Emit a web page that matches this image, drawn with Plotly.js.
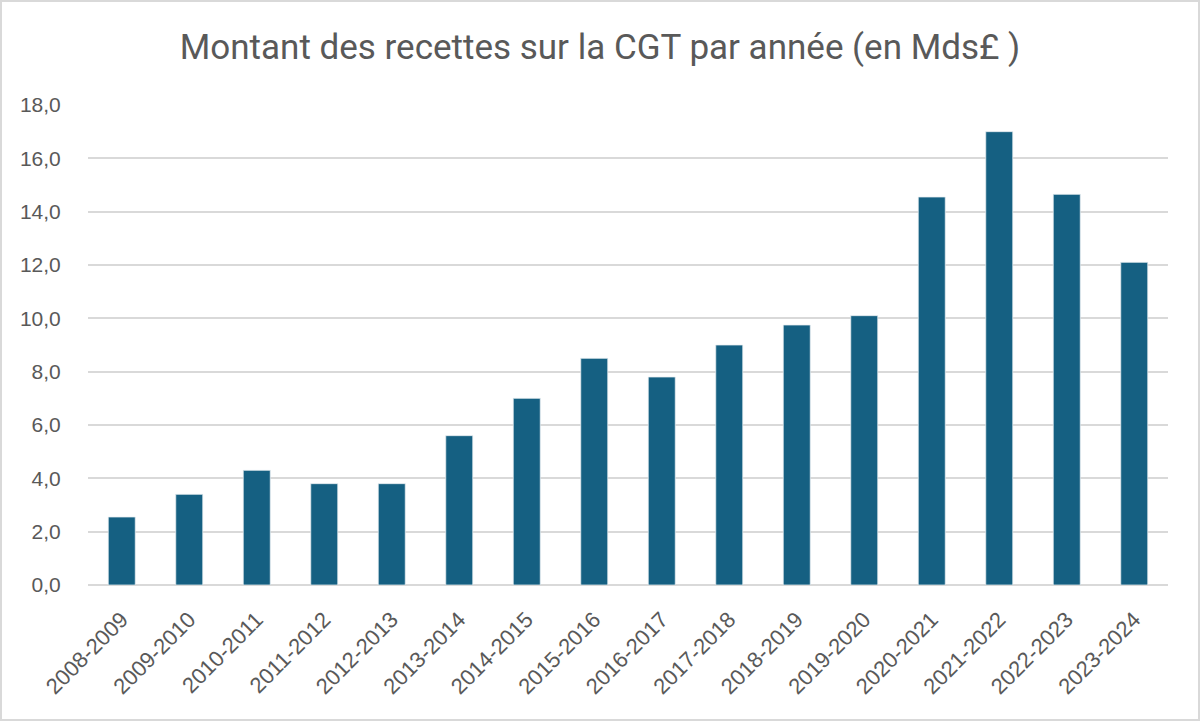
<!DOCTYPE html>
<html><head><meta charset="utf-8">
<script src="https://cdn.plot.ly/plotly-3.0.1.min.js"></script>
<style>
html,body{margin:0;padding:0;background:#fff;}
#chart{position:absolute;left:0;top:0;width:1200px;height:721px;}
#frame{position:absolute;left:0;top:0;width:1200px;height:721px;box-sizing:border-box;border:2px solid #d9d9d9;pointer-events:none;}
</style></head>
<body>
<div id="chart"></div>
<div id="frame"></div>
<script>
const categories = ["2008-2009","2009-2010","2010-2011","2011-2012","2012-2013","2013-2014","2014-2015","2015-2016","2016-2017","2017-2018","2018-2019","2019-2020","2020-2021","2021-2022","2022-2023","2023-2024"];
const recettes = [2.55, 3.4, 4.3, 3.8, 3.8, 5.6, 7.0, 8.5, 7.8, 9.0, 9.75, 10.1, 14.55, 17.0, 14.65, 12.1];
const yTicks = [0,2,4,6,8,10,12,14,16,18];

Plotly.newPlot('chart', [{
  type: 'bar',
  x: categories,
  y: recettes,
  marker: {color: '#156082', line: {color: '#e8eef2', width: 0.75}},
  hoverinfo: 'x+y'
}], {
  width: 1200, height: 721,
  margin: {l: 88, r: 32, t: 105, b: 136},
  paper_bgcolor: '#ffffff', plot_bgcolor: '#ffffff',
  bargap: 0.6,
  separators: ',.',
  title: {text: 'Montant des recettes sur la CGT par année (en Mds£ )', x: 0.5, xanchor: 'center', y: 0.935, yanchor: 'middle',
    font: {family: 'Roboto, sans-serif', size: 35, color: '#595959'}},
  font: {family: 'Liberation Sans, Arial, sans-serif', color: '#595959', size: 21},
  xaxis: {type: 'category', tickangle: -45, showgrid: false, zeroline: false, showline: false,
    ticks: 'outside', ticklen: 12, tickcolor: 'rgba(0,0,0,0)',
    tickfont: {family: 'Liberation Sans, Arial, sans-serif', size: 22, color: '#595959'}, automargin: false},
  yaxis: {range: [0, 18], tickvals: yTicks, tickformat: '.1f', showgrid: true, gridcolor: '#d9d9d9', gridwidth: 1.5,
    zeroline: true, zerolinecolor: '#d9d9d9', zerolinewidth: 1.5, showline: false,
    ticks: 'outside', ticklen: 22, tickcolor: 'rgba(0,0,0,0)',
    tickfont: {family: 'Liberation Sans, Arial, sans-serif', size: 21, color: '#595959'}, automargin: false},
  showlegend: false
}, {displayModeBar: false});
</script>
</body></html>
